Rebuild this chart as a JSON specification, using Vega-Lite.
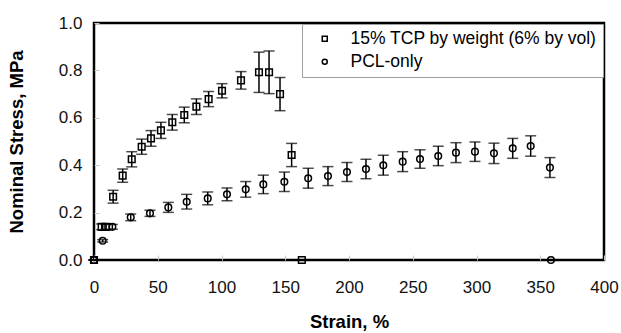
{
  "$schema": "https://vega.github.io/schema/vega-lite/v6.json",
  "width": 510,
  "height": 237,
  "autosize": "none",
  "padding": {"left": 94, "top": 23, "right": 17, "bottom": 73},
  "background": "white",
  "config": {
    "font": "Liberation Sans",
    "view": {"stroke": "#000", "strokeWidth": 2.5},
    "axis": {"grid": false, "domain": false, "labelFlush": false}
  },
  "data": {
    "values": [
      {"series": "15% TCP by weight (6% by vol)", "strain": 0, "stress": 0, "err": 0},
      {"series": "15% TCP by weight (6% by vol)", "strain": 6, "stress": 0.14, "err": 0.012},
      {"series": "15% TCP by weight (6% by vol)", "strain": 9.5, "stress": 0.14, "err": 0.012},
      {"series": "15% TCP by weight (6% by vol)", "strain": 15, "stress": 0.267, "err": 0.027},
      {"series": "15% TCP by weight (6% by vol)", "strain": 22.5, "stress": 0.356, "err": 0.028},
      {"series": "15% TCP by weight (6% by vol)", "strain": 29.6, "stress": 0.425, "err": 0.032},
      {"series": "15% TCP by weight (6% by vol)", "strain": 37.4, "stress": 0.478, "err": 0.032},
      {"series": "15% TCP by weight (6% by vol)", "strain": 44.7, "stress": 0.513, "err": 0.033},
      {"series": "15% TCP by weight (6% by vol)", "strain": 52.5, "stress": 0.547, "err": 0.034},
      {"series": "15% TCP by weight (6% by vol)", "strain": 61.4, "stress": 0.581, "err": 0.033},
      {"series": "15% TCP by weight (6% by vol)", "strain": 70.8, "stress": 0.612, "err": 0.033},
      {"series": "15% TCP by weight (6% by vol)", "strain": 80.3, "stress": 0.647, "err": 0.033},
      {"series": "15% TCP by weight (6% by vol)", "strain": 89.9, "stress": 0.679, "err": 0.032},
      {"series": "15% TCP by weight (6% by vol)", "strain": 100.4, "stress": 0.714, "err": 0.03},
      {"series": "15% TCP by weight (6% by vol)", "strain": 115.3, "stress": 0.758, "err": 0.037},
      {"series": "15% TCP by weight (6% by vol)", "strain": 129.4, "stress": 0.792, "err": 0.085},
      {"series": "15% TCP by weight (6% by vol)", "strain": 137.3, "stress": 0.792, "err": 0.09},
      {"series": "15% TCP by weight (6% by vol)", "strain": 145.9, "stress": 0.7, "err": 0.07},
      {"series": "15% TCP by weight (6% by vol)", "strain": 155, "stress": 0.443, "err": 0.049},
      {"series": "15% TCP by weight (6% by vol)", "strain": 163, "stress": 0, "err": 0},
      {"series": "PCL-only", "strain": 0, "stress": 0, "err": 0},
      {"series": "PCL-only", "strain": 6.8, "stress": 0.081, "err": 0.005},
      {"series": "PCL-only", "strain": 14.4, "stress": 0.14, "err": 0.01},
      {"series": "PCL-only", "strain": 28.8, "stress": 0.18, "err": 0.014},
      {"series": "PCL-only", "strain": 43.9, "stress": 0.197, "err": 0.013},
      {"series": "PCL-only", "strain": 58.3, "stress": 0.222, "err": 0.021},
      {"series": "PCL-only", "strain": 72.7, "stress": 0.246, "err": 0.031},
      {"series": "PCL-only", "strain": 89.2, "stress": 0.26, "err": 0.027},
      {"series": "PCL-only", "strain": 104.3, "stress": 0.277, "err": 0.027},
      {"series": "PCL-only", "strain": 119, "stress": 0.298, "err": 0.033},
      {"series": "PCL-only", "strain": 132.8, "stress": 0.319, "err": 0.039},
      {"series": "PCL-only", "strain": 149.3, "stress": 0.33, "err": 0.041},
      {"series": "PCL-only", "strain": 168, "stress": 0.345, "err": 0.042},
      {"series": "PCL-only", "strain": 183.5, "stress": 0.354, "err": 0.04},
      {"series": "PCL-only", "strain": 198.4, "stress": 0.371, "err": 0.04},
      {"series": "PCL-only", "strain": 213.3, "stress": 0.384, "err": 0.041},
      {"series": "PCL-only", "strain": 226.9, "stress": 0.4, "err": 0.042},
      {"series": "PCL-only", "strain": 242.1, "stress": 0.415, "err": 0.042},
      {"series": "PCL-only", "strain": 255.7, "stress": 0.426, "err": 0.039},
      {"series": "PCL-only", "strain": 270, "stress": 0.439, "err": 0.041},
      {"series": "PCL-only", "strain": 283.9, "stress": 0.453, "err": 0.042},
      {"series": "PCL-only", "strain": 298.8, "stress": 0.457, "err": 0.041},
      {"series": "PCL-only", "strain": 313.7, "stress": 0.45, "err": 0.043},
      {"series": "PCL-only", "strain": 328.4, "stress": 0.471, "err": 0.042},
      {"series": "PCL-only", "strain": 342.5, "stress": 0.481, "err": 0.043},
      {"series": "PCL-only", "strain": 357.6, "stress": 0.39, "err": 0.042},
      {"series": "PCL-only", "strain": 358.4, "stress": 0, "err": 0}
    ]
  },
  "encoding": {
    "x": {
      "field": "strain",
      "type": "quantitative",
      "scale": {"domain": [0, 400], "nice": false, "zero": true},
      "axis": {
        "title": "Strain, %",
        "values": [0, 50, 100, 150, 200, 250, 300, 350, 400],
        "format": "d",
        "labelFontSize": 17,
        "labelColor": "#111",
        "labelPadding": 24,
        "tickSize": -5,
        "tickColor": "#c8c8c8",
        "tickWidth": 1,
        "titleFontSize": 18.5,
        "titleFontWeight": "bold",
        "titleColor": "#000",
        "titlePadding": 17
      }
    },
    "y": {
      "field": "stress",
      "type": "quantitative",
      "scale": {"domain": [0, 1], "nice": false},
      "axis": {
        "title": "Nominal Stress, MPa",
        "values": [0, 0.2, 0.4, 0.6, 0.8, 1.0],
        "format": ".1f",
        "labelFontSize": 17,
        "labelColor": "#111",
        "labelPadding": 17,
        "tickSize": -5,
        "tickColor": "#c8c8c8",
        "tickWidth": 1,
        "titleFontSize": 18.5,
        "titleFontWeight": "bold",
        "titleColor": "#000",
        "titlePadding": 32
      }
    }
  },
  "layer": [
    {
      "mark": {
        "type": "errorbar",
        "color": "#000",
        "thickness": 1.5,
        "ticks": {"size": 11, "color": "#000", "strokeWidth": 1.5}
      },
      "encoding": {
        "yError": {"field": "err"}
      }
    },
    {
      "mark": {"type": "point", "filled": false, "stroke": "#000", "strokeWidth": 1.5, "opacity": 1, "size": 44},
      "encoding": {
        "shape": {
          "field": "series",
          "type": "nominal",
          "scale": {"domain": ["15% TCP by weight (6% by vol)", "PCL-only"], "range": ["square", "circle"]},
          "legend": {
            "title": null,
            "orient": "none",
            "legendX": 208,
            "legendY": 1,
            "padding": 6,
            "rowPadding": 4,
            "symbolOffset": 8,
            "symbolSize": 25,
            "symbolStrokeColor": "#000",
            "symbolStrokeWidth": 1.5,
            "symbolFillColor": "transparent",
            "labelFontSize": 17.5,
            "labelColor": "#000",
            "labelOffset": 17,
            "labelLimit": 400,
            "strokeColor": "#a0a0a0",
            "fillColor": "white"
          }
        }
      }
    }
  ]
}
